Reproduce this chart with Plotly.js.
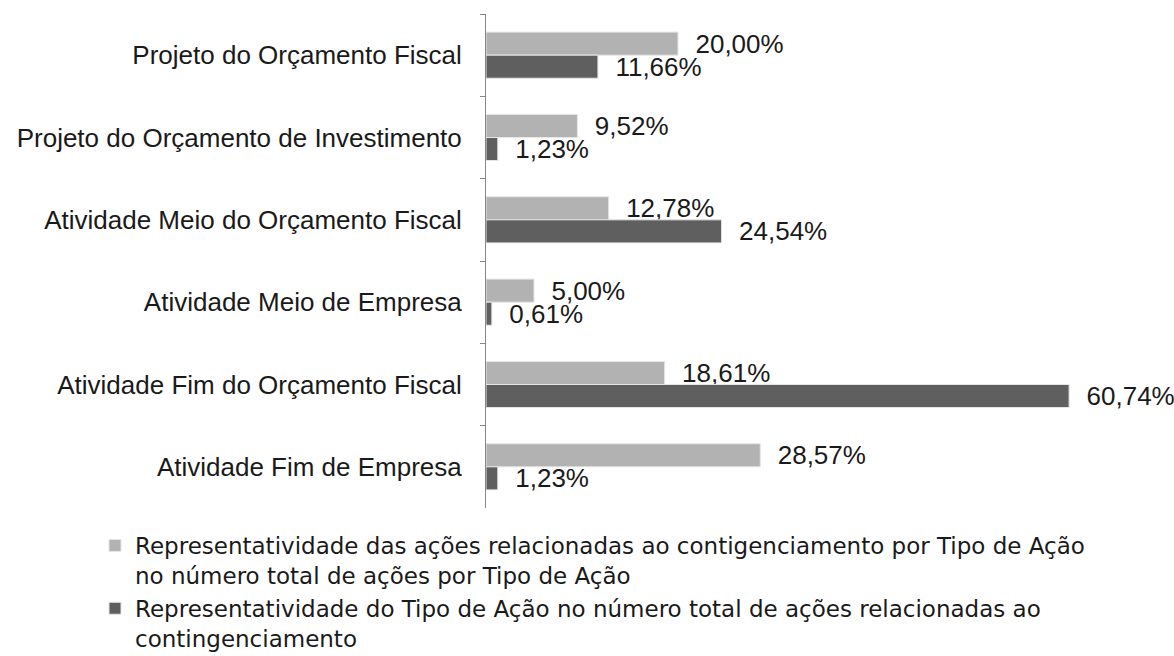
<!DOCTYPE html>
<html>
<head>
<meta charset="utf-8">
<script src="https://cdn.plot.ly/plotly-3.0.1.min.js"></script>
<style>html,body{margin:0;padding:0;background:#fff;}#chart{width:1174px;height:656px;}</style>
</head>
<body>
<div id="chart"></div>
<script>
const categories = [
  "Projeto do Orçamento Fiscal",
  "Projeto do Orçamento de Investimento",
  "Atividade Meio do Orçamento Fiscal",
  "Atividade Meio de Empresa",
  "Atividade Fim do Orçamento Fiscal",
  "Atividade Fim de Empresa"
];
const seriesLightName = "Representatividade das ações relacionadas ao contigenciamento por Tipo de Ação<br>no número total de ações por Tipo de Ação";
const seriesDarkName = "Representatividade do Tipo de Ação no número total de ações relacionadas ao<br>contingenciamento";
const seriesLight = [20.00, 9.52, 12.78, 5.00, 18.61, 28.57];
const seriesDark = [11.66, 1.23, 24.54, 0.61, 60.74, 1.23];

const FONT = "'Liberation Sans', Arial, sans-serif";
const LEGFONT = "'DejaVu Sans', sans-serif";
const pad = "\u00a0\u00a0";

const common = {
  type: "bar",
  orientation: "h",
  y: categories,
  textposition: "outside",
  texttemplate: pad + "%{x:.2f}%",
  textfont: {family: FONT, size: 26, color: "#1a1a1a"},
  cliponaxis: false,
  constraintext: "none",
  hoverinfo: "skip"
};

const traces = [
  Object.assign({}, common, {
    name: seriesLightName,
    x: seriesLight,
    marker: {color: "#b2b2b2", line: {color: "#e6e6e6", width: 1}}
  }),
  Object.assign({}, common, {
    name: seriesDarkName,
    x: seriesDark,
    marker: {color: "#5f5f5f", line: {color: "#e6e6e6", width: 1}}
  })
];

const layout = {
  width: 1174,
  height: 656,
  margin: {l: 486, r: 16, t: 14, b: 148, autoexpand: false},
  paper_bgcolor: "#ffffff",
  plot_bgcolor: "#ffffff",
  separators: ",.",
  barmode: "group",
  bargap: 0.44,
  bargroupgap: 0,
  showlegend: true,
  font: {family: FONT, size: 26, color: "#1a1a1a"},
  xaxis: {
    range: [0, 70],
    visible: false,
    showgrid: false,
    zeroline: false,
    fixedrange: true
  },
  yaxis: {
    type: "category",
    autorange: "reversed",
    automargin: false,
    showline: true,
    linecolor: "#868686",
    linewidth: 1,
    ticks: "outside",
    tickson: "boundaries",
    ticklen: 5,
    tickcolor: "#868686",
    ticklabelstandoff: 18,
    tickfont: {family: FONT, size: 26, color: "#1a1a1a"},
    showgrid: false,
    zeroline: false,
    fixedrange: true
  },
  legend: {
    orientation: "v",
    xref: "container",
    yref: "container",
    x: 95 / 1174,
    y: 1 - 524 / 656,
    xanchor: "left",
    yanchor: "top",
    valign: "top",
    traceorder: "normal",
    font: {family: LEGFONT, size: 23, color: "#1a1a1a"},
    tracegroupgap: 0,
    itemclick: false,
    bgcolor: "rgba(0,0,0,0)"
  }
};

Plotly.newPlot("chart", traces, layout, {displayModeBar: false, staticPlot: true});
</script>
</body>
</html>
